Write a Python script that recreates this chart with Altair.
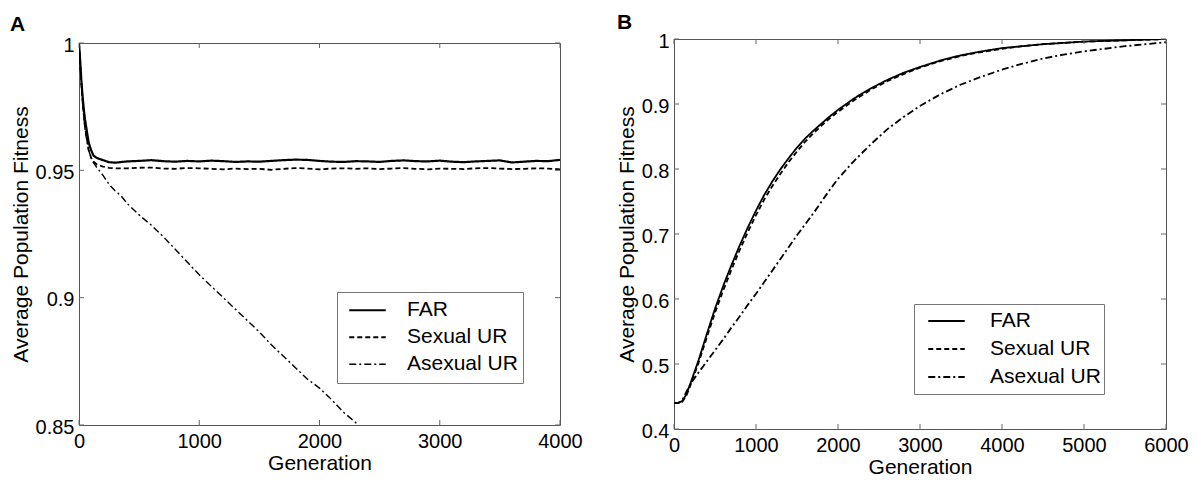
import altair as alt
import pandas as pd

FONT = "Liberation Sans"
series = ["FAR", "Sexual UR", "Asexual UR"]

# ---------------- Panel A ----------------
a_gen_early = [0, 10, 20, 30, 40, 50, 60, 80, 100, 120, 150, 200, 250, 300]
a_gen_plateau = [400, 500, 600, 700, 800, 900, 1000, 1100, 1200, 1300, 1400, 1500,
                 1600, 1700, 1800, 1900, 2000, 2100, 2200, 2300, 2400, 2500, 2600,
                 2700, 2800, 2900, 3000, 3100, 3200, 3300, 3400, 3500, 3600, 3700,
                 3800, 3900, 4000]
a_far_early = [1.0, 0.993, 0.985, 0.979, 0.974, 0.970, 0.967, 0.961, 0.958, 0.9558,
               0.9548, 0.9540, 0.9532, 0.9530]
a_far_plateau = [0.9535, 0.9537, 0.9540, 0.9536, 0.9534, 0.9537, 0.9535, 0.9538, 0.9536,
                 0.9533, 0.9535, 0.9534, 0.9537, 0.9540, 0.9542, 0.9541, 0.9537, 0.9534,
                 0.9533, 0.9536, 0.9535, 0.9533, 0.9537, 0.9539, 0.9536, 0.9535, 0.9538,
                 0.9534, 0.9532, 0.9535, 0.9537, 0.9539, 0.9531, 0.9534, 0.9537, 0.9536,
                 0.9541]
a_sex_early = [1.0, 0.992, 0.984, 0.977, 0.972, 0.967, 0.964, 0.958, 0.955, 0.9535,
               0.9522, 0.9515, 0.9510, 0.9508]
a_sex_plateau = [0.9508, 0.9510, 0.9511, 0.9507, 0.9506, 0.9509, 0.9508, 0.9506, 0.9504,
                 0.9507, 0.9505, 0.9506, 0.9502, 0.9506, 0.9509, 0.9507, 0.9504, 0.9507,
                 0.9508, 0.9506, 0.9508, 0.9505, 0.9507, 0.9509, 0.9506, 0.9504, 0.9507,
                 0.9506, 0.9505, 0.9508, 0.9509, 0.9507, 0.9505, 0.9506, 0.9508, 0.9507,
                 0.9504]
a_asex_gen = [0, 10, 20, 30, 40, 50, 60, 80, 100, 120, 150, 200, 250, 300, 350, 400,
              500, 600, 700, 800, 900, 1000, 1100, 1200, 1300, 1400, 1500, 1600, 1700,
              1800, 1900, 2000, 2100, 2200, 2300, 2400]
a_asex = [1.0, 0.992, 0.984, 0.977, 0.971, 0.966, 0.963, 0.958, 0.955, 0.953, 0.951,
          0.948, 0.9445, 0.942, 0.940, 0.937, 0.9325, 0.9285, 0.924, 0.919, 0.914, 0.909,
          0.9045, 0.900, 0.8955, 0.891, 0.8865, 0.8815, 0.877, 0.8725, 0.868, 0.8645,
          0.860, 0.855, 0.851, 0.8465]

# ---------------- Panel B ----------------
b_gen = [0, 50, 100, 150, 200, 300, 400, 500, 600, 700, 800, 900, 1000, 1100, 1200,
         1300, 1400, 1500, 1600, 1700, 1800, 1900, 2000, 2200, 2400, 2600, 2800, 3000,
         3250, 3500, 3750, 4000, 4250, 4500, 4750, 5000, 5250, 5500, 5750, 6000]
b_far = [0.440, 0.440, 0.443, 0.453, 0.470, 0.506, 0.546, 0.585, 0.620, 0.652, 0.682,
         0.710, 0.736, 0.760, 0.781, 0.800, 0.817, 0.833, 0.847, 0.859, 0.870, 0.881,
         0.891, 0.909, 0.924, 0.937, 0.948, 0.957, 0.967, 0.975, 0.981, 0.986, 0.989,
         0.992, 0.994, 0.996, 0.997, 0.998, 0.999, 1.000]
b_sex = [0.440, 0.440, 0.442, 0.451, 0.467, 0.502, 0.541, 0.579, 0.613, 0.645, 0.675,
         0.703, 0.729, 0.753, 0.774, 0.793, 0.811, 0.827, 0.842, 0.855, 0.867, 0.878,
         0.888, 0.906, 0.922, 0.935, 0.946, 0.956, 0.966, 0.974, 0.980, 0.985, 0.989,
         0.992, 0.994, 0.996, 0.997, 0.998, 0.999, 1.000]
b_asex = [0.440, 0.440, 0.444, 0.457, 0.469, 0.487, 0.504, 0.521, 0.538, 0.556, 0.573,
          0.591, 0.608, 0.626, 0.644, 0.662, 0.680, 0.698, 0.715, 0.732, 0.750, 0.768,
          0.785, 0.813, 0.838, 0.861, 0.880, 0.897, 0.915, 0.930, 0.942, 0.953, 0.962,
          0.970, 0.976, 0.981, 0.985, 0.989, 0.992, 0.995]

a_xticks = [0, 1000, 2000, 3000, 4000]
a_yticks = [0.85, 0.9, 0.95, 1.0]
b_xticks = [0, 1000, 2000, 3000, 4000, 5000, 6000]
b_yticks = [0.4, 0.5, 0.6, 0.7, 0.8, 0.9, 1.0]


def long_df(parts):
    rows = []
    for name, gens, vals in parts:
        for i, (g, v) in enumerate(zip(gens, vals)):
            rows.append({"gen": g, "fit": v, "series": name, "order": i})
    return pd.DataFrame(rows)


df_a = long_df([
    ("FAR", a_gen_early + a_gen_plateau, a_far_early + a_far_plateau),
    ("Sexual UR", a_gen_early + a_gen_plateau, a_sex_early + a_sex_plateau),
    ("Asexual UR", a_asex_gen, a_asex),
])
df_b = long_df([
    ("FAR", b_gen, b_far),
    ("Sexual UR", b_gen, b_sex),
    ("Asexual UR", b_gen, b_asex),
])


def panel(df, xdom, ydom, xticks, yticks, w, h, widths, label, dx, toff, lg):
    leg = alt.Legend(title=None, orient="none", legendX=lg["x"], legendY=lg["y"],
                     symbolType="stroke", symbolSize=1330, symbolStrokeColor="black",
                     symbolOffset=lg["so"], clipHeight=lg["ch"],
                     labelFont=FONT, labelFontSize=21, labelColor="black",
                     labelOffset=lg["lo"], padding=lg["pad"], rowPadding=0,
                     labelExpr="datum.label + '  '",
                     strokeColor="#777", fillColor="white")
    x = alt.X("gen:Q", scale=alt.Scale(domain=xdom, nice=False, zero=False),
              axis=alt.Axis(values=xticks, format="d", title="Generation"))
    y = alt.Y("fit:Q", scale=alt.Scale(domain=ydom, nice=False, zero=False),
              axis=alt.Axis(values=yticks, format="~g",
                            title="Average Population Fitness"))
    lines = alt.Chart(df).mark_line(color="black", clip=True).encode(
        x=x, y=y, order="order:Q",
        strokeDash=alt.StrokeDash("series:N", sort=series,
                                  scale=alt.Scale(domain=series,
                                                  range=[[1, 0], [5, 3], [7, 3, 2, 3]]),
                                  legend=leg),
        strokeWidth=alt.StrokeWidth("series:N", sort=series,
                                    scale=alt.Scale(domain=series, range=widths),
                                    legend=leg),
        detail="series:N",
    )
    xt = pd.DataFrame({"gen": xticks})
    yt = pd.DataFrame({"fit": yticks})
    tc = "#666"
    tb = alt.Chart(xt).mark_rule(color=tc).encode(x="gen:Q", y=alt.value(h), y2=alt.value(h - 5))
    tt = alt.Chart(xt).mark_rule(color=tc).encode(x="gen:Q", y=alt.value(0), y2=alt.value(5))
    tl = alt.Chart(yt).mark_rule(color=tc).encode(y="fit:Q", x=alt.value(0), x2=alt.value(5))
    tr = alt.Chart(yt).mark_rule(color=tc).encode(y="fit:Q", x=alt.value(w - 5), x2=alt.value(w))
    return alt.layer(lines, tb, tt, tl, tr).properties(
        width=w, height=h,
        title=alt.TitleParams(label, anchor="start", frame="group", dx=dx, offset=toff,
                              fontSize=21, fontWeight="bold", font=FONT, color="black"),
    )


pa = panel(df_a, [0, 4000], [0.85, 1.0], a_xticks, a_yticks, 481, 382,
           [2.2, 1.4, 1.1], "A", -69, 0,
           {"x": 258, "y": 249, "so": 6, "ch": 26.5, "lo": 20, "pad": 5})
pb = panel(df_b, [0, 6000], [0.4, 1.0], b_xticks, b_yticks, 492, 390,
           [1.8, 1.8, 1.3], "B", -57, -2,
           {"x": 240, "y": 265, "so": 10, "ch": 28, "lo": 24, "pad": 3})

chart = alt.HConcatChart(hconcat=[pa, pb], bounds="flush", center=True, spacing=114).resolve_scale(
    strokeDash="independent", strokeWidth="independent"
).resolve_legend(
    strokeDash="independent", strokeWidth="independent"
).properties(
    padding={"left": 1, "top": 3, "right": 0, "bottom": 2},
    background="white",
).configure_view(
    stroke="#555", strokeWidth=1
).configure_axis(
    domain=False, ticks=False, tickSize=0, grid=False, labelFlush=False,
    labelFont=FONT, labelFontSize=20, labelColor="black",
    titleFont=FONT, titleFontSize=21, titleFontWeight="normal", titleColor="black",
).configure_axisX(
    labelPadding=6, titlePadding=1
).configure_axisY(
    labelPadding=5, titlePadding=4, labelOffset=2
)

chart.save("out.html", embed_options={"renderer": "svg", "actions": False})
